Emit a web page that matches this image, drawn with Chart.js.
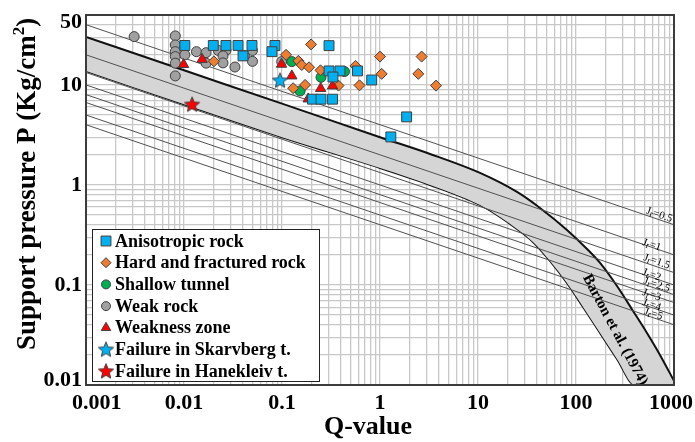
<!DOCTYPE html>
<html>
<head>
<meta charset="utf-8">
<title>Support pressure vs Q-value</title>
<script src="https://cdn.jsdelivr.net/npm/chart.js"></script>
<style>
  body { margin: 0; background: #fff; }
</style>
</head>
<body>
<canvas id="myChart" width="695" height="442"></canvas>
<script>
// --- data (Q-value, support pressure in kg/cm2) ---
const anisoQ = [0.0102, 0.0199, 0.0268, 0.0356, 0.0494, 0.040, 0.0848, 0.079, 0.302, 0.302, 0.391, 0.331, 0.589, 0.823, 0.205, 0.25, 0.328, 1.87, 1.29];
const anisoP = [24.8, 24.8, 24.8, 24.8, 24.8, 19.5, 24.8, 21.5, 24.7, 13.8, 13.8, 12.0, 13.8, 11.2, 7.2, 7.2, 7.2, 4.79, 3.02];

const hardQ = [0.0202, 0.11, 0.147, 0.159, 0.189, 0.198, 0.13, 0.172, 0.247, 0.377, 0.562, 0.618, 1.0, 1.04, 2.66, 2.46, 3.73];
const hardP = [17.2, 20, 17.4, 15.8, 15.0, 25.4, 9.27, 10.0, 14.0, 9.84, 15.5, 9.9, 19.2, 12.9, 19.2, 12.9, 9.84];

const shallowQ = [0.126, 0.153, 0.25, 0.434];
const shallowP = [17.1, 8.7, 11.9, 13.6];

const weakQ = [0.0031, 0.00815, 0.00815, 0.00815, 0.00815, 0.00815, 0.00815, 0.0102, 0.0134, 0.0168, 0.0168, 0.0224, 0.0268, 0.025, 0.025, 0.0331, 0.0414, 0.05, 0.05, 0.0993];
const weakP = [30.4, 30.9, 25.1, 21.5, 19.2, 16.5, 12.3, 20, 21.5, 21.0, 16.5, 22.1, 22.1, 19.5, 16.6, 15.1, 19.7, 22.1, 17.2, 17.1];

const zoneQ = [0.0099, 0.0153, 0.0989, 0.126, 0.185, 0.248, 0.328];
const zoneP = [16.0, 18.0, 16.1, 12.3, 7.24, 9.2, 9.77];

const skarvQ = [0.0955];
const skarvP = [11.1];
const haneQ = [0.0121];
const haneP = [6.38];

// Barton et al. (1974) band
const upperQ = [0.001, 0.01, 0.1, 1, 3.24, 10.48, 25.0, 42.9, 80.9, 129.5, 176, 262, 382, 530, 719, 1000];
const upperP = [30.2, 14.0, 6.5, 3.0, 2.04, 1.318, 0.851, 0.589, 0.355, 0.229, 0.166, 0.0977, 0.055, 0.0331, 0.02, 0.011];
const lowerQ = [0.001, 0.01, 0.1, 1, 3.24, 10.48, 16.77, 25.0, 36.4, 54.3, 80.9, 118, 176, 262, 400, 1000];
const lowerP = [13.8, 6.4, 3.0, 1.479, 1.0, 0.631, 0.479, 0.363, 0.269, 0.1738, 0.1047, 0.0603, 0.0331, 0.0182, 0.01, 0.01];

// Jr lines: ends at Q = 0.001 and Q = 1000
const jrValues = [0.5, 1, 1.5, 2, 2.5, 3, 4, 5];
const jrStartP = [40, 20, 13.3, 10, 8, 6.67, 5, 4];
const jrEndP = [0.4, 0.2, 0.133, 0.1, 0.08, 0.0667, 0.05, 0.04];
const jrLabelQ = [708, 592, 666, 592, 666, 592, 592, 615];
const jrLabelP = [0.501, 0.251, 0.171, 0.126, 0.1, 0.0794, 0.0631, 0.0513];
const bartonQ = 250, bartonP = 0.0355;

// axes
const xTickLabels = [0.001, 0.01, 0.1, 1, 10, 100, 1000];
const yTickLabels = [0.01, 0.1, 1, 10, 50];
const xDecades = [0.001, 0.01, 0.1, 1, 10, 100];
const yDecades = [0.01, 0.1, 1];
const minorSteps = [1, 2, 3, 4, 5, 6, 7, 8, 9];

const xGrid = [];
xDecades.forEach(d => minorSteps.forEach(m => xGrid.push(m * d)));
xGrid.push(1000);
const yGrid = [];
yDecades.forEach(d => minorSteps.forEach(m => yGrid.push(m * d)));
[10, 20, 30, 40, 50].forEach(v => yGrid.push(v));

const SERIF = "'Liberation Serif', 'Times New Roman', serif";
const EDGE = '#404040';

function pts(qs, ps) { return qs.map((q, i) => ({x: q, y: ps[i]})); }

function makeStar(fill, r) {
  const c = document.createElement('canvas');
  const s = Math.ceil(r * 2 + 4);
  c.width = s; c.height = s;
  const g = c.getContext('2d');
  g.translate(s / 2, s / 2 + 0.5);
  g.beginPath();
  for (let i = 0; i < 10; i++) {
    const rr = i % 2 ? r * 0.45 : r;
    const a = -Math.PI / 2 + i * Math.PI / 5;
    g.lineTo(Math.cos(a) * rr, Math.sin(a) * rr);
  }
  g.closePath();
  g.fillStyle = fill; g.fill();
  g.lineWidth = 1; g.strokeStyle = EDGE; g.stroke();
  return c;
}
const blueStar = makeStar('#00b0f0', 8);
const redStar = makeStar('#ff0000', 8);

function marker(ctx, style, x, y, r, fill) {
  if (style instanceof HTMLCanvasElement) {
    ctx.drawImage(style, x - style.width / 2, y - style.height / 2);
    return;
  }
  ctx.save();
  ctx.fillStyle = fill; ctx.strokeStyle = EDGE; ctx.lineWidth = 1;
  ctx.beginPath();
  if (style === 'rect') {
    const s = r * Math.SQRT1_2;
    ctx.rect(x - s, y - s, 2 * s, 2 * s);
  } else if (style === 'rectRot') {
    ctx.moveTo(x - r, y); ctx.lineTo(x, y - r); ctx.lineTo(x + r, y); ctx.lineTo(x, y + r); ctx.closePath();
  } else if (style === 'triangle') {
    ctx.moveTo(x, y - r); ctx.lineTo(x + r * 0.866, y + r * 0.5); ctx.lineTo(x - r * 0.866, y + r * 0.5); ctx.closePath();
  } else {
    ctx.arc(x, y, r, 0, Math.PI * 2);
  }
  ctx.fill(); ctx.stroke();
  ctx.restore();
}

const series = [
  {label: 'Anisotropic rock', q: anisoQ, p: anisoP, style: 'rect', r: 7, color: '#00b0f0', order: 1},
  {label: 'Hard and fractured rock', q: hardQ, p: hardP, style: 'rectRot', r: 5.5, color: '#ed7d31', order: 3},
  {label: 'Shallow tunnel', q: shallowQ, p: shallowP, style: 'circle', r: 5, color: '#00b050', order: 4},
  {label: 'Weak rock', q: weakQ, p: weakP, style: 'circle', r: 5, color: '#a0a0a0', order: 5},
  {label: 'Weakness zone', q: zoneQ, p: zoneP, style: 'triangle', r: 6, color: '#ff0000', order: 2},
  {label: 'Failure in Skarvberg t.', q: skarvQ, p: skarvP, style: blueStar, r: 8, color: '#00b0f0', order: 0},
  {label: 'Failure in Hanekleiv t.', q: haneQ, p: haneP, style: redStar, r: 8, color: '#ff0000', order: 0}
];

const datasets = series.map(s => ({
  label: s.label,
  data: pts(s.q, s.p),
  pointStyle: s.style,
  pointRadius: s.r,
  backgroundColor: s.color,
  borderColor: EDGE,
  borderWidth: 1,
  order: s.order
}));

jrValues.forEach((jr, i) => {
  datasets.push({
    label: 'Jr=' + jr, data: [{x: 0.001, y: jrStartP[i]}, {x: 1000, y: jrEndP[i]}],
    showLine: true, pointRadius: 0, borderColor: '#505050', borderWidth: 1, order: 6
  });
});
// upper boundary fills down to the lower boundary (next dataset)
datasets.push({
  label: 'Barton upper', data: pts(upperQ, upperP), showLine: true, pointRadius: 0,
  borderColor: '#111', borderWidth: 2, backgroundColor: '#d5d5d5', fill: '+1',
  cubicInterpolationMode: 'monotone', tension: 0.4, order: 7
});
datasets.push({
  label: 'Barton lower', data: pts(lowerQ, lowerP), showLine: true, pointRadius: 0,
  borderColor: '#111', borderWidth: 2, fill: false,
  cubicInterpolationMode: 'monotone', tension: 0.4, order: 7
});

const deco = {
  id: 'deco',
  afterDatasetsDraw(chart) {
    const ctx = chart.ctx, xs = chart.scales.x, ys = chart.scales.y;
    ctx.save();
    ctx.beginPath();
    ctx.rect(chart.chartArea.left, chart.chartArea.top, chart.chartArea.width, chart.chartArea.height);
    ctx.clip();
    // Jr labels
    ctx.fillStyle = '#000';
    ctx.textBaseline = 'middle';
    jrValues.forEach((jr, i) => {
      const x0 = xs.getPixelForValue(0.001), y0 = ys.getPixelForValue(jrStartP[i]);
      const x1 = xs.getPixelForValue(1000), y1 = ys.getPixelForValue(jrEndP[i]);
      const ang = Math.atan2(y1 - y0, x1 - x0);
      const px = xs.getPixelForValue(jrLabelQ[i]), py = ys.getPixelForValue(jrLabelP[i]);
      ctx.save();
      ctx.translate(px, py);
      ctx.rotate(ang);
      ctx.font = '11px ' + SERIF;
      const wJ = ctx.measureText('J').width;
      const rest = '=' + jr;
      const wRest = ctx.measureText(rest).width;
      ctx.font = '9px ' + SERIF;
      const wr = ctx.measureText('r').width;
      const sx = -(wJ + wr + wRest) / 2;
      ctx.textAlign = 'left';
      ctx.font = '11px ' + SERIF;
      ctx.fillText('J', sx, 0);
      ctx.font = '9px ' + SERIF;
      ctx.fillText('r', sx + wJ, 2);
      ctx.font = '11px ' + SERIF;
      ctx.fillText(rest, sx + wJ + wr, 0);
      ctx.restore();
    });
    // Barton label
    ctx.save();
    ctx.translate(xs.getPixelForValue(bartonQ), ys.getPixelForValue(bartonP));
    ctx.rotate(62 * Math.PI / 180);
    ctx.font = 'bold 15px ' + SERIF;
    ctx.textAlign = 'center';
    ctx.fillText('Barton et al. (1974)', 0, 0);
    ctx.restore();
    ctx.restore();
  },
  afterDraw(chart) {
    const ctx = chart.ctx, xs = chart.scales.x, ys = chart.scales.y, a = chart.chartArea;
    ctx.save();
    // frame
    ctx.strokeStyle = '#3c3c3c';
    ctx.lineWidth = 2;
    ctx.strokeRect(a.left, a.top, a.right - a.left, a.bottom - a.top);

    // tick labels
    ctx.fillStyle = '#000';
    ctx.font = 'bold 22px ' + SERIF;
    ctx.textBaseline = 'middle';
    ctx.textAlign = 'center';
    xTickLabels.forEach(v => {
      const t = String(v);
      const w = ctx.measureText(t).width;
      let px = xs.getPixelForValue(v);
      px = Math.min(Math.max(px, a.left - 14 + w / 2), chart.width - 2 - w / 2);
      ctx.fillText(t, px, a.bottom + 18);
    });
    ctx.textAlign = 'right';
    yTickLabels.forEach(v => {
      let py = ys.getPixelForValue(v);
      py = Math.min(Math.max(py, a.top + 7), a.bottom - 5);
      ctx.fillText(String(v), a.left - 4, py);
    });

    // axis titles
    ctx.textAlign = 'center';
    ctx.font = 'bold 26px ' + SERIF;
    ctx.fillText('Q-value', 368, 427);

    ctx.save();
    ctx.translate(28, 184);
    ctx.rotate(-Math.PI / 2);
    ctx.textAlign = 'left';
    const main = 'Support pressure P (Kg/cm';
    ctx.font = 'bold 27px ' + SERIF;
    const w1 = ctx.measureText(main).width;
    const w3 = ctx.measureText(')').width;
    ctx.font = 'bold 17px ' + SERIF;
    const w2 = ctx.measureText('2').width;
    const sx = -(w1 + w2 + w3) / 2;
    ctx.font = 'bold 27px ' + SERIF;
    ctx.fillText(main, sx, 0);
    ctx.font = 'bold 17px ' + SERIF;
    ctx.fillText('2', sx + w1, -8);
    ctx.font = 'bold 27px ' + SERIF;
    ctx.fillText(')', sx + w1 + w2, 0);
    ctx.restore();

    // legend
    ctx.fillStyle = '#fff';
    ctx.fillRect(92, 229, 227, 152);
    ctx.strokeStyle = '#222';
    ctx.lineWidth = 1;
    ctx.strokeRect(92.5, 229.5, 227, 152);
    ctx.font = 'bold 18px ' + SERIF;
    ctx.textAlign = 'left';
    series.forEach((s, i) => {
      const y = 241 + i * 21.7;
      const lr = s.style === 'rect' ? 7 : s.style === 'rectRot' ? 5 : s.style === 'triangle' ? 5.5 : 4.5;
      marker(ctx, s.style, 106, y, lr, s.color);
      ctx.fillStyle = '#000';
      ctx.fillText(s.label, 115, y + 1);
    });
    ctx.restore();
  }
};

new Chart(document.getElementById('myChart'), {
  type: 'scatter',
  data: {datasets: datasets},
  options: {
    responsive: false,
    animation: false,
    events: [],
    layout: {padding: {top: 15, right: 21, left: 0, bottom: 0}},
    plugins: {legend: {display: false}, tooltip: {enabled: false}},
    scales: {
      x: {
        type: 'logarithmic', min: 0.001, max: 1000,
        afterBuildTicks: axis => { axis.ticks = xGrid.map(v => ({value: v})); },
        afterFit: axis => { axis.height = 57; },
        ticks: {display: false, autoSkip: false},
        grid: {color: '#c8c8c8', lineWidth: 1.3, drawTicks: false},
        border: {display: false}
      },
      y: {
        type: 'logarithmic', min: 0.01, max: 50,
        afterBuildTicks: axis => { axis.ticks = yGrid.map(v => ({value: v})); },
        afterFit: axis => { axis.width = 86; },
        ticks: {display: false, autoSkip: false},
        grid: {color: '#c8c8c8', lineWidth: 1.3, drawTicks: false},
        border: {display: false}
      }
    }
  },
  plugins: [deco]
});
</script>
</body>
</html>
